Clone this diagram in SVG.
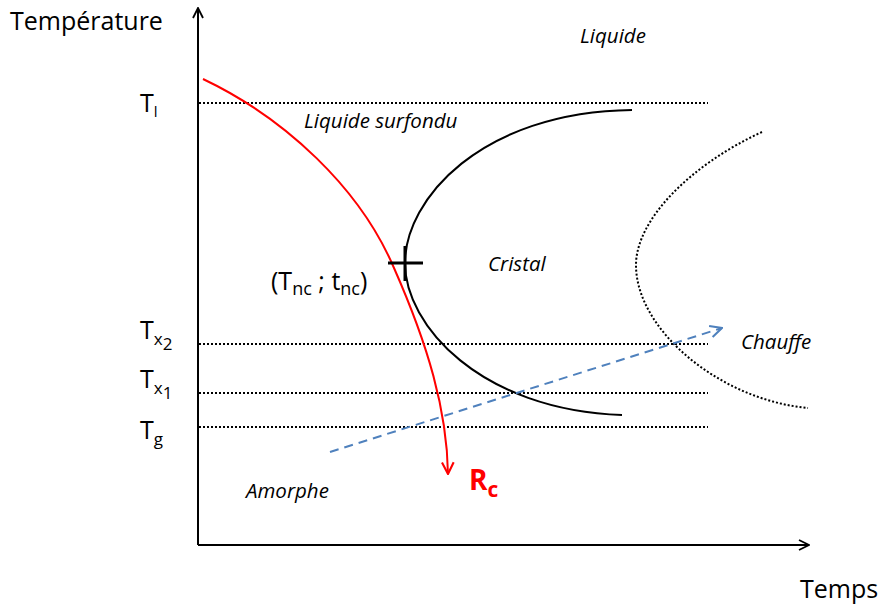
<svg xmlns="http://www.w3.org/2000/svg" width="883" height="607" viewBox="0 0 883 607">
<defs>
<style>
text{font-family:"Open Sans","Liberation Sans",sans-serif;fill:#000}
.lab{font-size:25px}
.it{font-size:20.5px;font-style:italic}
.dot{stroke:#000;stroke-width:2;stroke-dasharray:2 2;fill:none}
</style>
<marker id="ab" viewBox="0 0 12 12" refX="11" refY="6" markerWidth="12" markerHeight="12" markerUnits="userSpaceOnUse" orient="auto"><path d="M1,1 L11,6 L1,11" fill="none" stroke="#000" stroke-width="1.8"/></marker>
<marker id="ar" viewBox="0 0 12 12" refX="11" refY="6" markerWidth="14" markerHeight="14" markerUnits="userSpaceOnUse" orient="auto"><path d="M1,1 L11,6 L1,11" fill="none" stroke="#f00" stroke-width="1.8"/></marker>
<marker id="abl" viewBox="0 0 12 12" refX="11" refY="6" markerWidth="14" markerHeight="14" markerUnits="userSpaceOnUse" orient="auto"><path d="M1,1 L11,6 L1,11" fill="none" stroke="#4f81bd" stroke-width="1.8"/></marker>
</defs>
<g id="axes">
<line x1="198" y1="545" x2="198" y2="8" stroke="#000" stroke-width="2" marker-end="url(#ab)"/>
<line x1="198" y1="545" x2="809" y2="545" stroke="#000" stroke-width="2" marker-end="url(#ab)"/>
<text class="lab" x="10" y="30">Température</text>
<text class="lab" x="800" y="598">Temps</text>
</g>
<g id="levels">
<line class="dot" x1="199" y1="103" x2="708" y2="103"/>
<line class="dot" x1="199" y1="344" x2="708" y2="344"/>
<line class="dot" x1="199" y1="393" x2="708" y2="393"/>
<line class="dot" x1="199" y1="427" x2="708" y2="427"/>
<text class="lab" x="140" y="112">T<tspan font-size="15" dy="5">l</tspan></text>
<text class="lab" x="140" y="339">T<tspan font-size="17" dy="6">x</tspan><tspan font-size="17" dy="5">2</tspan></text>
<text class="lab" x="140" y="388">T<tspan font-size="17" dy="6">x</tspan><tspan font-size="17" dy="5">1</tspan></text>
<text class="lab" x="140" y="439">T<tspan font-size="17" dy="6">g</tspan></text>
</g>
<g id="curves">
<path d="M632,110 C480,112 405,200 405,263 C405,325 480,410 622,415" fill="none" stroke="#000" stroke-width="2"/>
<path class="dot" d="M762,132 C690,165 636,220 636,265 C636,330 720,400 808,408"/>
<path d="M203,79 C285,118 360,188 394,268 C428,345 447,410 448,474" fill="none" stroke="#f00" stroke-width="2" marker-end="url(#ar)"/>
<path d="M388,263 H423 M405,246 V281" stroke="#000" stroke-width="3" fill="none"/>
<line x1="330" y1="452" x2="722" y2="328" stroke="#4f81bd" stroke-width="2" stroke-dasharray="9 6" marker-end="url(#abl)"/>
</g>
<g id="labels">
<text class="it" x="580" y="43">Liquide</text>
<text class="it" x="304" y="128">Liquide surfondu</text>
<text class="it" x="488" y="271">Cristal</text>
<text class="it" x="741" y="349">Chauffe</text>
<text class="it" x="246" y="498">Amorphe</text>
<text class="lab" x="271" y="290">(T<tspan font-size="18" dy="5">nc</tspan><tspan dy="-5"> ; t</tspan><tspan font-size="18" dy="5">nc</tspan><tspan dy="-5">)</tspan></text>
<text x="469" y="490" font-size="28" font-weight="bold" style="fill:#f00">R<tspan font-size="21" dy="7" style="fill:#f00">c</tspan></text>
</g>
</svg>
